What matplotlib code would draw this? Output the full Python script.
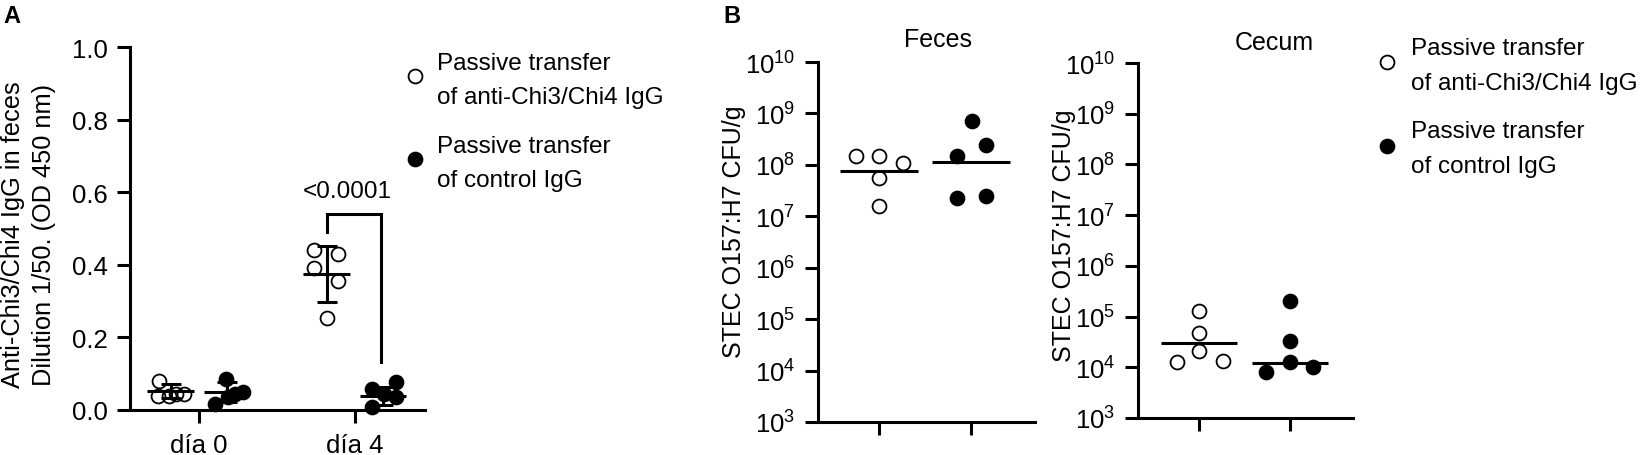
import matplotlib
matplotlib.use('Agg')
import matplotlib.pyplot as plt
from matplotlib.lines import Line2D
from matplotlib.transforms import ScaledTranslation
from matplotlib.ticker import NullLocator

plt.rcParams['font.family'] = ['Liberation Sans', 'DejaVu Sans']
plt.rcParams['mathtext.fontset'] = 'custom'
plt.rcParams['mathtext.rm'] = 'Liberation Sans'
plt.rcParams['mathtext.it'] = 'Liberation Sans:italic'
plt.rcParams['mathtext.bf'] = 'Liberation Sans:bold'

# ---------------- data ----------------
days = ['día 0', 'día 4']
a_anti_d0 = [0.08, 0.039, 0.039, 0.044, 0.044]
a_anti_d4 = [0.44, 0.43, 0.39, 0.355, 0.253]
a_ctrl_d0 = [0.085, 0.017, 0.036, 0.044, 0.05]
a_ctrl_d4 = [0.077, 0.058, 0.044, 0.036, 0.008]
a_anti_mean = [0.052, 0.375]
a_anti_sd = [0.020, 0.077]
a_ctrl_mean = [0.050, 0.039]
a_ctrl_sd = [0.027, 0.024]
p_text = '<0.0001'
a_yticks = [0.0, 0.2, 0.4, 0.6, 0.8, 1.0]

feces_anti = [1.48e8, 1.48e8, 1.08e8, 5.5e7, 1.58e7]
feces_ctrl = [7.1e8, 2.4e8, 1.48e8, 2.26e7, 2.47e7]
feces_line = [7.6e7, 1.13e8]
cecum_anti = [1.29e5, 4.7e4, 2.09e4, 1.27e4, 1.32e4]
cecum_ctrl = [2.02e5, 3.3e4, 1.27e4, 8.0e3, 1.01e4]
cecum_line = [3.0e4, 1.21e4]
b_exponents = [3, 4, 5, 6, 7, 8, 9, 10]

legend_lines = [['Passive transfer', 'of anti-Chi3/Chi4 IgG'],
                ['Passive transfer', 'of control IgG']]
ylabel_a = ['Anti-Chi3/Chi4 IgG in feces', 'Dilution 1/50. (OD 450 nm)']
ylabel_b = 'STEC O157:H7 CFU/g'

# ---------------- layout (pixels) ----------------
W, H, DPI = 1641, 456, 100
FS_TICK = 18.5
FS_LEG = 17.5
FS_YLA = 18.3
FS_YLB = 18
FS_TITLE = 18
FS_P = 17.5
LW = 2.2
MS = 10
TICKLEN = 9.4

# horizontal jitter of points (pixels), layout only
jit_a_anti_d0 = [-12, -13, -2, 5, 13]
jit_a_ctrl_d0 = [-1, -12, 1, 8, 16]
jit_a_anti_d4 = [-13, 11, -13, 11, 0]
jit_a_ctrl_d4 = [13, -11, 1, 13, -11]
jit_f_anti = [-23, 0, 24, 0, 0]
jit_f_ctrl = [1, 15, -14, -14, 15]
jit_c_anti = [0, 0, 0, -22, 24]
jit_c_ctrl = [0, 0, 0, -24, 23]

fig = plt.figure(figsize=(W / DPI, H / DPI), dpi=DPI)


def box(l, t, r, b):
    return [l / W, 1 - b / H, (r - l) / W, (b - t) / H]


def fx(px):
    return px / W


def fy(py):
    return 1 - py / H


def style(ax, pad):
    for s in ['top', 'right']:
        ax.spines[s].set_visible(False)
    for s in ['left', 'bottom']:
        ax.spines[s].set_linewidth(LW)
    ax.tick_params(direction='out', length=TICKLEN, width=LW, labelsize=FS_TICK, pad=pad)


def points(ax, xc, vals, jit, filled):
    for v, j in zip(vals, jit):
        tr = ax.transData + ScaledTranslation(j / DPI, 0, fig.dpi_scale_trans)
        ax.plot([xc], [v], 'o', transform=tr, ms=MS,
                mfc='black' if filled else 'none', mec='black', mew=1.3,
                clip_on=False, zorder=3)


def legend(mx, tx, marker_y, baselines):
    for k in range(2):
        fig.add_artist(Line2D([fx(mx)], [fy(marker_y[k])], transform=fig.transFigure,
                              ls='none', marker='o', ms=MS,
                              mfc='black' if k == 1 else 'none', mec='black', mew=1.3))
        for line, b in zip(legend_lines[k], baselines[k]):
            fig.text(fx(tx), fy(b), line, ha='left', va='baseline', fontsize=FS_LEG)


# ---------------- Panel A ----------------
axA = fig.add_axes(box(130, 48, 425, 411))
style(axA, 6.5)
axA.set_xlim(-0.442, 1.449)
axA.set_ylim(0, 1.0)
axA.set_yticks(a_yticks)
axA.set_yticklabels([f'{v:.1f}' for v in a_yticks])
axA.set_xticks([0, 1])
axA.set_xticklabels(days)
axA.tick_params(axis='x', pad=7)

off = 0.18
anti_sets = [(a_anti_d0, jit_a_anti_d0), (a_anti_d4, jit_a_anti_d4)]
ctrl_sets = [(a_ctrl_d0, jit_a_ctrl_d0), (a_ctrl_d4, jit_a_ctrl_d4)]
for i in range(2):
    xa, xcn = i - off, i + off
    points(axA, xa, anti_sets[i][0], anti_sets[i][1], False)
    points(axA, xcn, ctrl_sets[i][0], ctrl_sets[i][1], True)
    for xc, m, sd in [(xa, a_anti_mean[i], a_anti_sd[i]), (xcn, a_ctrl_mean[i], a_ctrl_sd[i])]:
        axA.hlines(m, xc - 0.15, xc + 0.15, color='black', lw=LW, zorder=4)
        axA.errorbar([xc], [m], yerr=[sd], fmt='none', ecolor='black',
                     elinewidth=LW, capsize=7, capthick=LW, zorder=4)

axA.plot([1 - off, 1 - off, 1.167, 1.167], [0.49, 0.54, 0.54, 0.132],
         color='black', lw=LW, solid_joinstyle='miter', zorder=4)
axA.text(0.949, 0.587, p_text, ha='center', va='baseline', fontsize=FS_P)

for line, bx in zip(ylabel_a, [20, 51]):
    fig.text(fx(bx), fy(235), line, rotation=90, rotation_mode='anchor',
             ha='center', va='baseline', fontsize=FS_YLA)
legend(415, 437, [77, 160], [[70, 104], [153, 187]])
fig.text(fx(3), fy(23), 'A', fontsize=17, fontweight='bold', va='baseline')

# ---------------- Panel B ----------------
def panel_b(rect, xlim, anti, ctrl, jit_anti, jit_ctrl, line, title, tx, ty, ylx, yly):
    ax = fig.add_axes(box(*rect))
    style(ax, 7)
    ax.set_yscale('log')
    ax.set_ylim(10 ** b_exponents[0], 10 ** b_exponents[-1])
    ax.set_yticks([10.0 ** k for k in b_exponents])
    ax.set_yticklabels([f'$10^{{{k}}}$' for k in b_exponents])
    ax.yaxis.set_minor_locator(NullLocator())
    ax.set_xlim(*xlim)
    ax.set_xticks([0, 1])
    ax.set_xticklabels(['', ''])
    points(ax, 0, anti, jit_anti, False)
    points(ax, 1, ctrl, jit_ctrl, True)
    for xc, m in zip([0, 1], line):
        ax.hlines(m, xc - 0.42, xc + 0.42, color='black', lw=LW, zorder=4)
    fig.text(fx(tx), fy(ty), title, ha='center', va='baseline', fontsize=FS_TITLE)
    fig.text(fx(ylx), fy(yly), ylabel_b, rotation=90, rotation_mode='anchor',
             ha='center', va='baseline', fontsize=FS_YLB)
    return ax


axF = panel_b((818, 63, 1035, 423), (-0.656, 1.688), feces_anti, feces_ctrl,
              jit_f_anti, jit_f_ctrl, feces_line, 'Feces', 938, 47, 741, 232)
axC = panel_b((1138, 64, 1353, 419), (-0.670, 1.692), cecum_anti, cecum_ctrl,
              jit_c_anti, jit_c_ctrl, cecum_line, 'Cecum', 1274, 50, 1071, 236)
legend(1387, 1411, [63, 147], [[55, 90], [138, 173]])
fig.text(fx(723), fy(23), 'B', fontsize=17, fontweight='bold', va='baseline')

fig.savefig('out.png', dpi=DPI)
